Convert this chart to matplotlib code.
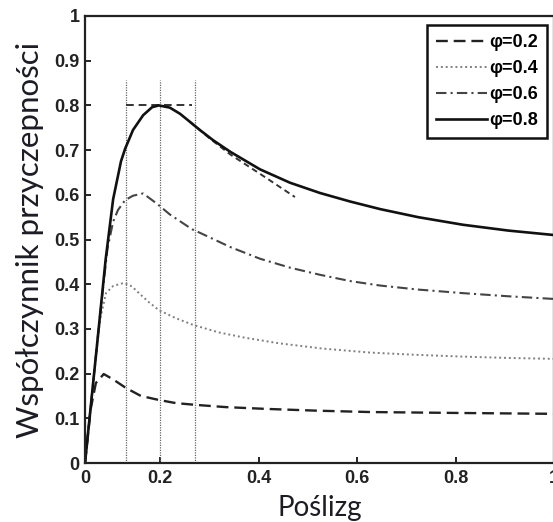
import matplotlib
matplotlib.use("Agg")
import matplotlib.pyplot as plt
import numpy as np

# --- data ---
x08 = [0, 0.02, 0.04, 0.055, 0.075, 0.096, 0.107, 0.128, 0.155, 0.179, 0.197, 0.22, 0.241, 0.261,
       0.281, 0.308, 0.343, 0.403, 0.464, 0.525, 0.586, 0.647, 0.724, 0.815, 0.907, 1.0]
y08 = [0, 0.165, 0.33, 0.455, 0.59, 0.675, 0.703, 0.745, 0.778, 0.796, 0.800, 0.795, 0.781, 0.763,
       0.745, 0.722, 0.696, 0.657, 0.627, 0.604, 0.585, 0.568, 0.550, 0.533, 0.520, 0.51]

x06 = [0, 0.02, 0.04, 0.06, 0.075, 0.088, 0.107, 0.128, 0.155, 0.192, 0.22, 0.265, 0.281, 0.343,
       0.403, 0.464, 0.525, 0.586, 0.647, 0.724, 0.815, 0.907, 1.0]
y06 = [0, 0.165, 0.33, 0.48, 0.54, 0.566, 0.588, 0.598, 0.603, 0.58, 0.556, 0.523, 0.515, 0.483,
       0.457, 0.437, 0.421, 0.407, 0.397, 0.388, 0.380, 0.373, 0.367]

x04 = [0, 0.02, 0.04, 0.056, 0.075, 0.104, 0.125, 0.144, 0.17, 0.197, 0.232, 0.267, 0.32, 0.369,
       0.44, 0.53, 0.627, 0.72, 0.815, 0.907, 1.0]
y04 = [0, 0.165, 0.32, 0.38, 0.396, 0.403, 0.395, 0.38, 0.36, 0.342, 0.324, 0.309, 0.292, 0.281,
       0.268, 0.256, 0.247, 0.242, 0.238, 0.235, 0.233]

x02 = [0, 0.015, 0.029, 0.05, 0.075, 0.109, 0.149, 0.197, 0.232, 0.273, 0.334, 0.416, 0.52, 0.627, 0.8, 1.0]
y02 = [0, 0.12, 0.179, 0.199, 0.187, 0.168, 0.15, 0.141, 0.134, 0.13, 0.125, 0.121, 0.117, 0.114, 0.112, 0.11]

# approximating curve and annotation guides
xfit = [0.261, 0.30, 0.343, 0.403, 0.474]
yfit = [0.763, 0.727, 0.69, 0.647, 0.595]
xpeak_line = [0.109, 0.265]
ypeak_line = [0.80, 0.80]
vlines_x = [0.109, 0.2, 0.271]
vline_top = 0.857

labels = ["φ=0.2", "φ=0.4", "φ=0.6", "φ=0.8"]
xticks = [0, 0.2, 0.4, 0.6, 0.8, 1]
xticklabels = ["0", "0.2", "0.4", "0.6", "0.8", "1"]
yticks = [0, 0.1, 0.2, 0.3, 0.4, 0.5, 0.6, 0.7, 0.8, 0.9, 1]
yticklabels = ["0", "0.1", "0.2", "0.3", "0.4", "0.5", "0.6", "0.7", "0.8", "0.9", "1"]

# piecewise-linear x scale (the first 0.2 of the axis is drawn compressed, as in the original)
W_LEFT, W_RIGHT = 75.0, 394.0
TOT = W_LEFT + W_RIGHT


def fwd(x):
    x = np.asarray(x, dtype=float)
    return np.where(x < 0.2, x / 0.2 * W_LEFT, W_LEFT + (x - 0.2) / 0.8 * W_RIGHT) / TOT


def inv(u):
    v = np.asarray(u, dtype=float) * TOT
    return np.where(v < W_LEFT, v / W_LEFT * 0.2, 0.2 + (v - W_LEFT) / W_RIGHT * 0.8)


fig = plt.figure(figsize=(5.53, 5.22), dpi=100)
ax = fig.add_axes([85/553, 1-463/522, (554-85)/553, (463-16)/522])
ax.set_xscale("function", functions=(fwd, inv))

for vx in vlines_x:
    ax.plot([vx, vx], [0, vline_top], color="#666666", lw=0.9, ls=(0, (1, 1)))
ax.plot(xpeak_line, ypeak_line, color="#333333", lw=1.4, ls=(0, (4, 2.5)))
ax.plot(xfit, yfit, color="#333333", lw=1.4, ls=(0, (3, 2)))

l1, = ax.plot(x02, y02, color="#222222", lw=1.7, ls=(0, (5, 2.5)))
l2, = ax.plot(x04, y04, color="#808080", lw=1.4, ls=(0, (1, 1.5)))
l3, = ax.plot(x06, y06, color="#444444", lw=1.5, ls=(0, (5, 2, 1, 2)))
l4, = ax.plot(x08, y08, color="#111111", lw=1.9, ls="-")

ax.set_xlim(0, 1)
ax.set_ylim(0, 1)
ax.set_xticks(xticks)
ax.set_xticklabels(xticklabels)
ax.set_yticks(yticks)
ax.set_yticklabels(yticklabels)
ax.minorticks_off()
for lab in ax.get_xticklabels() + ax.get_yticklabels():
    lab.set_fontfamily("Liberation Sans")
    lab.set_fontweight("bold")
    lab.set_fontsize(13)
    lab.set_color("#222222")
ax.tick_params(axis="both", direction="in", length=4, width=1.2, top=False, right=False)
ax.tick_params(axis="x", pad=5)
ax.tick_params(axis="y", pad=4)
for s in ax.spines.values():
    s.set_linewidth(1.6)
    s.set_color("#222222")

ax.set_xlabel("Poślizg", fontfamily="Lato", fontsize=20, color="#1c1c24", labelpad=6)
ax.set_ylabel("Współczynnik przyczepności", fontfamily="Lato", fontsize=22.5, color="#1c1c24", labelpad=7)

leg = ax.legend([l1, l2, l3, l4], labels, loc="upper right",
                bbox_to_anchor=(547/553, 1-25/522), bbox_transform=fig.transFigure,
                prop={"family": "Liberation Sans", "weight": "bold", "size": 13},
                handlelength=2.8, handletextpad=0.15, labelspacing=0.5,
                borderpad=0.5, borderaxespad=0, fancybox=False, framealpha=1)
leg.get_frame().set_edgecolor("#111111")
leg.get_frame().set_linewidth(1.8)

fig.savefig("out.png", dpi=100)
